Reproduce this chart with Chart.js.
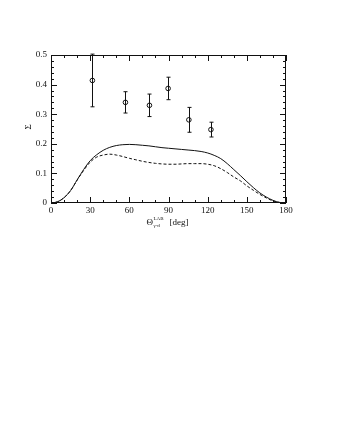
<!DOCTYPE html>
<html>
<head>
<meta charset="utf-8">
<script src="https://cdn.jsdelivr.net/npm/chart.js@4/dist/chart.umd.min.js"></script>
<style>
  html, body { margin: 0; padding: 0; background: #fff; }
  #wrap { width: 337px; height: 436px; }
</style>
</head>
<body>
<div id="wrap"><canvas id="sigmaChart" width="337" height="436"></canvas></div>
<script>
// theory curves, sampled every 5 deg
const thetaGrid = [0, 5, 10, 15, 20, 25, 30, 35, 40, 45, 50, 55, 60, 65, 70, 75, 80, 85, 90,
    95, 100, 105, 110, 115, 120, 125, 130, 135, 140, 145, 150, 155, 160, 165, 170, 175, 180];
const sigmaFull = [0, 0.004, 0.018, 0.042, 0.078, 0.113, 0.143, 0.163, 0.178, 0.188, 0.194, 0.197, 0.198,
    0.197, 0.195, 0.193, 0.190, 0.187, 0.185, 0.183, 0.181, 0.179, 0.177, 0.174, 0.169, 0.161, 0.150,
    0.133, 0.113, 0.093, 0.072, 0.052, 0.034, 0.020, 0.009, 0.002, 0];
const sigmaDashed = [0, 0.004, 0.018, 0.042, 0.077, 0.110, 0.138, 0.155, 0.162, 0.165, 0.162, 0.157, 0.151,
    0.146, 0.141, 0.137, 0.134, 0.132, 0.131, 0.131, 0.132, 0.133, 0.133, 0.133, 0.131, 0.126, 0.116,
    0.103, 0.088, 0.075, 0.058, 0.043, 0.029, 0.017, 0.007, 0.002, 0];

// measured points with symmetric errors
const expTheta = [31.7, 57.0, 75.4, 89.7, 105.6, 122.5];
const expSigma = [0.414, 0.340, 0.330, 0.387, 0.281, 0.248];
const expErr = [0.089, 0.036, 0.038, 0.038, 0.042, 0.025];

const xMin = 0, xMax = 180, xStep = 30, xMinorStep = 10;
const yMin = 0, yMax = 0.5, yStep = 0.1, yMinorStep = 0.02;

const ink = '#111';
const serif = "'Liberation Serif', 'DejaVu Serif', serif";

const toPoints = (xs, ys) => xs.map((x, i) => ({ x: x, y: ys[i] }));

const frame = {
    id: 'frame',
    beforeDatasetsDraw(chart) {
        const ctx = chart.ctx;
        const a = chart.chartArea;
        const xs = chart.scales.x, ys = chart.scales.y;
        ctx.save();
        ctx.strokeStyle = ink;
        ctx.lineWidth = 1;

        // box
        ctx.strokeRect(a.left + 0.5, a.top + 0.5, a.right - a.left - 1, a.bottom - a.top - 1);

        // inward ticks on all four sides
        ctx.beginPath();
        const nx = Math.round((xMax - xMin) / xMinorStep);
        for (let k = 0; k <= nx; k++) {
            const v = xMin + k * xMinorStep;
            const len = (v % xStep === 0) ? 6 : 3;
            const px = Math.round(xs.getPixelForValue(v)) + 0.5;
            ctx.moveTo(px, a.bottom); ctx.lineTo(px, a.bottom - len);
            ctx.moveTo(px, a.top); ctx.lineTo(px, a.top + len);
        }
        const ny = Math.round((yMax - yMin) / yMinorStep);
        const per = Math.round(yStep / yMinorStep);
        for (let k = 0; k <= ny; k++) {
            const v = yMin + k * yMinorStep;
            const len = (k % per === 0) ? 6 : 3;
            const py = Math.round(ys.getPixelForValue(v)) + 0.5;
            ctx.moveTo(a.left, py); ctx.lineTo(a.left + len, py);
            ctx.moveTo(a.right, py); ctx.lineTo(a.right - len, py);
        }
        ctx.stroke();

        // error bars
        ctx.beginPath();
        expTheta.forEach((t, i) => {
            const px = Math.round(xs.getPixelForValue(t)) + 0.5;
            const top = ys.getPixelForValue(expSigma[i] + expErr[i]);
            const bot = ys.getPixelForValue(expSigma[i] - expErr[i]);
            ctx.moveTo(px, top); ctx.lineTo(px, bot);
            ctx.moveTo(px - 2, top); ctx.lineTo(px + 2, top);
            ctx.moveTo(px - 2, bot); ctx.lineTo(px + 2, bot);
        });
        ctx.stroke();
        ctx.restore();
    },
    afterDraw(chart) {
        const ctx = chart.ctx;
        const a = chart.chartArea;
        ctx.save();
        ctx.fillStyle = ink;

        // y title, rotated
        ctx.translate(29, (a.top + a.bottom) / 2 - 2);
        ctx.rotate(-Math.PI / 2);
        ctx.font = '9px ' + serif;
        ctx.textAlign = 'center';
        ctx.textBaseline = 'middle';
        ctx.fillText('Σ', 0, 0);
        ctx.setTransform(1, 0, 0, 1, 0, 0);

        // x title: Θ with sub/superscript
        ctx.textAlign = 'left';
        ctx.textBaseline = 'alphabetic';
        const base = 225;
        let x = 146.5;
        ctx.font = '9px ' + serif;
        ctx.fillText('Θ', x, base);
        x += ctx.measureText('Θ').width + 0.5;
        ctx.font = '5px ' + serif;
        ctx.fillText('LAB', x, base - 5);
        const supW = ctx.measureText('LAB').width;
        ctx.fillText('γ-d', x, base + 2);
        x += supW + 6;
        ctx.font = '9px ' + serif;
        ctx.fillText('[deg]', x, base);
        ctx.restore();
    }
};

new Chart(document.getElementById('sigmaChart'), {
    type: 'scatter',
    data: {
        datasets: [
            {
                label: 'full',
                data: toPoints(thetaGrid, sigmaFull),
                showLine: true,
                borderColor: ink,
                borderWidth: 1,
                pointRadius: 0,
                cubicInterpolationMode: 'monotone'
            },
            {
                label: 'dashed',
                data: toPoints(thetaGrid, sigmaDashed),
                showLine: true,
                borderColor: ink,
                borderWidth: 1,
                borderDash: [3, 2],
                pointRadius: 0,
                cubicInterpolationMode: 'monotone'
            },
            {
                label: 'data',
                data: toPoints(expTheta, expSigma),
                showLine: false,
                pointStyle: 'circle',
                pointRadius: 2.3,
                borderColor: ink,
                borderWidth: 1,
                backgroundColor: 'rgba(0,0,0,0)'
            }
        ]
    },
    options: {
        responsive: false,
        animation: false,
        layout: { padding: { top: 55, right: 51, bottom: 0, left: 0 } },
        plugins: {
            legend: { display: false },
            tooltip: { enabled: false }
        },
        scales: {
            x: {
                type: 'linear',
                min: xMin,
                max: xMax,
                afterFit: s => { s.height = 233; },
                grid: { display: false, drawTicks: false },
                border: { display: false },
                ticks: {
                    stepSize: xStep,
                    padding: 2,
                    color: ink,
                    maxRotation: 0,
                    font: { family: serif, size: 9 }
                }
            },
            y: {
                min: yMin,
                max: yMax,
                afterFit: s => { s.width = 51; },
                grid: { display: false, drawTicks: false },
                border: { display: false },
                ticks: {
                    stepSize: yStep,
                    padding: 4,
                    color: ink,
                    font: { family: serif, size: 9 },
                    callback: v => +v.toFixed(1)
                }
            }
        }
    },
    plugins: [frame]
});
</script>
</body>
</html>
